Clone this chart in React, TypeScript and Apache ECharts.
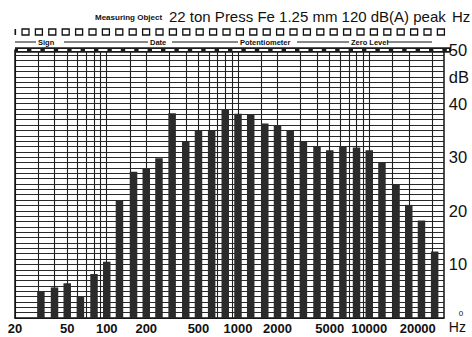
import React, { useEffect, useRef } from "react";
import * as echarts from "echarts";

// Third-octave band positions of the bars on the frequency scale (Hz)
const bandFreqs = [
  31.5, 40, 50, 63, 80, 100, 125, 160, 200, 250, 315, 400, 500, 630, 800, 1000,
  1250, 1600, 2000, 2500, 3150, 4000, 5000, 6300, 8000, 10000, 12500, 16000,
  20000, 25000, 31500,
];

// Band levels (dB)
const levelsDb = [
  4.9, 5.7, 6.5, 4.1, 8.2, 10.5, 21.9, 27.3, 27.9, 29.8, 38.2, 32.9, 34.9, 34.9,
  38.8, 38.1, 37.9, 36.3, 36.0, 34.9, 33.0, 32.1, 31.3, 32.1, 31.8, 31.3, 29.0,
  25.0, 21.1, 18.2, 12.4,
];

// Printed frequency labels (Hz)
const freqLabels = [20, 50, 100, 200, 500, 1000, 2000, 5000, 10000, 20000];

// Vertical rulings of the recorder paper (Hz)
const freqRulings = [
  20, 30, 40, 50, 60, 70, 80, 90, 100, 150, 200, 300, 400, 500, 600, 700, 800,
  900, 1000, 1500, 2000, 3000, 4000, 5000, 6000, 7000, 8000, 9000, 10000,
  15000, 20000, 30000,
];

// Level scale labels (45 carries the unit)
const dbLabels = [0, 10, 20, 30, 40, 45, 50];

const FONT = "'Liberation Sans', Arial, sans-serif";
const INK = "#111";

function buildGraphics() {
  const els: any[] = [];
  // title line
  els.push({
    type: "text",
    x: 95,
    y: 17,
    style: {
      text: "Measuring Object",
      font: `bold 8px ${FONT}`,
      fill: INK,
      verticalAlign: "middle",
    },
  });
  els.push({
    type: "text",
    x: 169,
    y: 16,
    style: {
      text: "22 ton Press Fe 1.25 mm 120 dB(A) peak",
      font: `15px ${FONT}`,
      fill: INK,
      verticalAlign: "middle",
    },
  });
  els.push({
    type: "text",
    x: 452,
    y: 16,
    style: { text: "Hz", font: `15px ${FONT}`, fill: INK, verticalAlign: "middle" },
  });

  // perforation row of the paper
  els.push({
    type: "rect",
    shape: { x: 14.5, y: 29, width: 1.6, height: 6 },
    style: { fill: INK },
  });
  for (let i = 0; i < 32; i++) {
    els.push({
      type: "rect",
      shape: { x: 22 + i * 13.4, y: 29, width: 7, height: 6 },
      style: { fill: "#fff", stroke: INK, lineWidth: 1.3 },
    });
  }

  // header fields
  const hy = 42;
  const segs = [
    [15, 36],
    [64, 148],
    [172, 238],
    [297, 349],
    [387, 432],
  ];
  segs.forEach(([a, b]) =>
    els.push({
      type: "line",
      shape: { x1: a, y1: hy, x2: b, y2: hy },
      style: { stroke: INK, lineWidth: 1 },
    })
  );
  const fields: [string, number][] = [
    ["Sign", 38],
    ["Date", 150],
    ["Potentiometer", 240],
    ["Zero Level", 351],
  ];
  fields.forEach(([t, x]) =>
    els.push({
      type: "text",
      x,
      y: hy,
      style: { text: t, font: `bold 7.5px ${FONT}`, fill: INK, verticalAlign: "middle" },
    })
  );

  // boxed top band of the chart grid
  els.push({
    type: "line",
    shape: { x1: 15, y1: 50, x2: 451, y2: 50 },
    style: { stroke: "#1a1a1a", lineWidth: 5.5 },
    z: 10,
  });
  els.push({
    type: "line",
    shape: { x1: 18, y1: 50, x2: 449, y2: 50 },
    style: { stroke: "#fff", lineWidth: 2.2, lineDash: [9, 4.4] },
    z: 11,
  });
  return els;
}

export default function App() {
  const ref = useRef<HTMLDivElement>(null);

  useEffect(() => {
    if (!ref.current) return;
    const chart = echarts.init(ref.current, undefined, { renderer: "svg" });
    chart.setOption({
      animation: false,
      backgroundColor: "#fff",
      textStyle: { fontFamily: FONT },
      grid: { left: 15, right: 21, top: 50, bottom: 19 },
      xAxis: {
        type: "log",
        logBase: 10,
        min: 20,
        max: 37000,
        axisLine: { show: true, lineStyle: { color: INK, width: 1.5 } },
        axisTick: { show: false, customValues: freqRulings },
        splitLine: { show: true, lineStyle: { color: "#1e1e1e", width: 1.1 } },
        minorSplitLine: { show: false },
        axisLabel: {
          customValues: freqLabels,
          fontSize: 13,
          fontWeight: "bold",
          color: INK,
          margin: 4,
          formatter: (v: number) =>
            v === 20000 ? "{last|20000}" : String(Math.round(v)),
          rich: {
            last: {
              fontSize: 13,
              fontWeight: "bold",
              color: INK,
              padding: [0, 0, 0, 18],
            },
          },
        },
        name: "Hz",
        nameLocation: "end",
        nameGap: 5,
        nameTextStyle: {
          fontSize: 14,
          color: INK,
          verticalAlign: "top",
          padding: [2, 0, 0, 0],
        },
      },
      yAxis: [
        {
          type: "value",
          position: "right",
          min: 0,
          max: 50,
          interval: 1,
          axisLine: { show: true, lineStyle: { color: INK, width: 1.5 } },
          axisTick: { show: false },
          splitLine: { show: true, lineStyle: { color: "#2a2a2a", width: 1 } },
          axisLabel: {
            customValues: dbLabels,
            fontSize: 16.5,
            color: INK,
            margin: 5,
            formatter: (v: number) =>
              v === 45 ? "dB" : v === 0 ? "{z|0}" : String(v),
            rich: {
              z: { fontSize: 8, color: INK, padding: [0, 0, 10, 10] },
            },
          },
        },
        {
          type: "value",
          position: "left",
          min: 0,
          max: 50,
          axisLine: { show: true, lineStyle: { color: INK, width: 1.5 } },
          axisTick: { show: false },
          axisLabel: { show: false },
          splitLine: { show: false },
        },
      ],
      series: [
        {
          type: "bar",
          yAxisIndex: 0,
          barWidth: 7.5,
          itemStyle: { color: "#2b2b2b" },
          data: bandFreqs.map((f, i) => [f, levelsDb[i]]),
        },
      ],
      graphic: buildGraphics(),
    });
    return () => chart.dispose();
  }, []);

  return (
    <div
      ref={ref}
      style={{
        position: "fixed",
        left: 0,
        top: 0,
        width: 472,
        height: 337,
        background: "#fff",
      }}
    />
  );
}
